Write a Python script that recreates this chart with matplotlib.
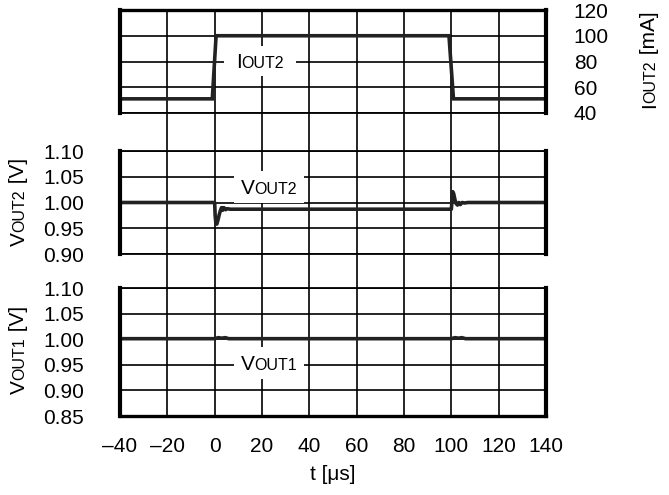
import matplotlib.pyplot as plt
from matplotlib.transforms import IdentityTransform
from matplotlib.patches import Rectangle

plt.rcParams['font.family'] = ['Liberation Sans', 'DejaVu Sans']

# time axis
t_ticks = [-40, -20, 0, 20, 40, 60, 80, 100, 120, 140]
t_labels = ['\u201340', '\u201320', '0', '20', '40', '60', '80', '100', '120', '140']

# load current step
iout2_t = [-40, -1.0, 0.6, 99.0, 100.9, 140]
iout2_ma = [51, 51, 100, 100, 51, 51]
i_ticks = [40, 60, 80, 100, 120]

# VOUT2 response to the step
vout2_t = [-40, 0.0, 0.2, 0.5, 0.9, 1.4, 1.9, 2.4, 2.9, 3.4, 3.9, 4.6, 5.4, 6.5, 8.0,
           100.0, 100.3, 100.6, 101.0, 101.5, 102.0, 102.6, 103.2, 103.8, 104.6, 105.6, 107.0, 140]
vout2_v = [1.000, 1.000, 0.975, 0.960, 0.958, 0.966, 0.976, 0.984, 0.990, 0.985, 0.990, 0.986, 0.988, 0.987, 0.987,
           0.987, 1.005, 1.021, 1.017, 1.006, 0.998, 0.995, 1.000, 0.996, 1.000, 0.999, 1.000, 1.000]
v2_ticks = [0.90, 0.95, 1.00, 1.05, 1.10]

# VOUT1 stays put, small blips at the edges
vout1_t = [-40, 0.0, 1.5, 3.0, 4.5, 6.0, 100.0, 101.5, 103.0, 104.5, 106.0, 140]
vout1_v = [1.001, 1.001, 1.003, 1.002, 1.003, 1.001, 1.001, 1.003, 1.002, 1.003, 1.001, 1.001]
v1_ticks = [0.85, 0.90, 0.95, 1.00, 1.05, 1.10]

W, H = 669, 495
fig = plt.figure(figsize=(W / 100, H / 100), dpi=100)
X0, X1 = 120, 546


def px_axes(y0, y1, **kw):
    # box given in pixels from the top-left corner
    return fig.add_axes([X0 / W, 1 - y1 / H, (X1 - X0) / W, (y1 - y0) / H], **kw)


# inner vertical grid runs through all three panels and the gaps between them
bg = px_axes(10, 416)
bg.set_xlim(-40, 140)
bg.set_ylim(0, 1)
for t in t_ticks[1:-1]:
    bg.axvline(t, color='black', lw=1.2)
bg.axis('off')

ax_i = px_axes(10, 113, facecolor='none')
ax_v2 = px_axes(151, 254, facecolor='none')
ax_v1 = px_axes(288, 416, facecolor='none')

lw_sig = 2.6
ax_i.plot(iout2_t, iout2_ma, color='#222222', lw=lw_sig, solid_joinstyle='miter')
ax_v2.plot(vout2_t, vout2_v, color='#222222', lw=lw_sig)
ax_v1.plot(vout1_t, vout1_v, color='#222222', lw=lw_sig)

ax_i.set_ylim(40, 120)
ax_i.set_yticks(i_ticks)
ax_v2.set_ylim(0.90, 1.10)
ax_v2.set_yticks(v2_ticks)
ax_v2.set_yticklabels(['%.2f' % v for v in v2_ticks])
ax_v1.set_ylim(0.85, 1.10)
ax_v1.set_yticks(v1_ticks)
ax_v1.set_yticklabels(['%.2f' % v for v in v1_ticks])

for ax in (ax_i, ax_v2, ax_v1):
    ax.set_xlim(-40, 140)
    ax.grid(axis='y', color='black', lw=1.2)
    ax.tick_params(length=0, labelsize=15, pad=26)
    for side in ('left', 'right'):
        ax.spines[side].set_linewidth(3.0)
    ax.spines['top'].set_linewidth(1.3)
    ax.spines['bottom'].set_linewidth(1.3)

ax_i.spines['top'].set_linewidth(2.4)
ax_v1.spines['bottom'].set_linewidth(2.4)
ax_i.yaxis.tick_right()
ax_i.tick_params(axis='y', pad=20)
for lab in ax_i.get_yticklabels():
    lab.set_horizontalalignment('left')
ax_i.set_xticks([])
ax_v2.set_xticks([])
ax_v1.set_xticks(t_ticks)
ax_v1.set_xticklabels(t_labels)
ax_v1.tick_params(axis='x', pad=15)

fig.text((X0 + X1) / 2 / W, 1 - 474 / H, 't [\u03bcs]', ha='center', va='center', fontsize=15)

fig.canvas.draw()
rend = fig.canvas.get_renderer()


def sub_label(xc, yc, parts, rotation=0, box=None):
    # draws text made of (string, size) parts, all on one baseline, centred on (xc, yc)
    tr = IdentityTransform()
    texts = []
    for s, size in parts:
        txt = fig.text(0, 0, s, fontsize=size, transform=tr, ha='left', va='baseline',
                       rotation=rotation, rotation_mode='anchor', zorder=6)
        texts.append(txt)
    lengths = []
    for txt in texts:
        bb = txt.get_window_extent(rend)
        lengths.append(bb.height if rotation else bb.width)
    total = sum(lengths)
    cap = max(sz for _, sz in parts) * 0.716 * 100 / 72
    xd, yd = xc, H - yc
    pos = 0
    for txt, ln in zip(texts, lengths):
        if rotation:
            txt.set_position((xd + cap / 2, yd - total / 2 + pos))
        else:
            txt.set_position((xd - total / 2 + pos, yd - cap / 2))
        pos += ln
    if box:
        px, py = box
        r = Rectangle((xd - total / 2 - px, yd - cap / 2 - py), total + 2 * px, cap + 2 * py,
                      transform=tr, facecolor='white', edgecolor='none', zorder=5)
        fig.add_artist(r)


big, small = 15, 11.5
sub_label(260, 61, [('I', big), ('OUT2', small)], box=(12, 8))
sub_label(269, 187, [('V', big), ('OUT2', small)], box=(7, 9))
sub_label(269, 363, [('V', big), ('OUT1', small)], box=(7, 9))

sub_label(17, 202, [('V', big), ('OUT2', small), (' [V]', big)], rotation=90)
sub_label(17, 350, [('V', big), ('OUT1', small), (' [V]', big)], rotation=90)
sub_label(648, 60, [('I', big), ('OUT2', small), (' [mA]', big)], rotation=90)

fig.savefig('out.png', dpi=100)
